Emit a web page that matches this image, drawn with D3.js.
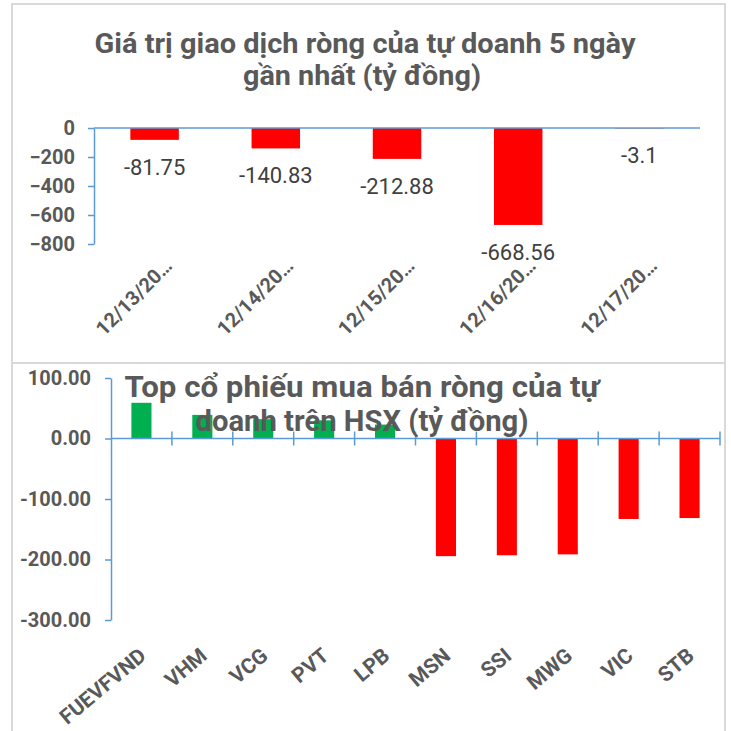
<!DOCTYPE html>
<html>
<head>
<meta charset="utf-8">
<script src="https://cdn.jsdelivr.net/npm/d3@7"></script>
<style>
body { margin: 0; background: #fff; }
text { font-family: Roboto, "Liberation Sans", sans-serif; }
</style>
</head>
<body>
<svg width="731" height="731"></svg>
<script>
// top chart data
const dates = ['12/13/20…', '12/14/20…', '12/15/20…', '12/16/20…', '12/17/20…'];
const dateValues = [-81.75, -140.83, -212.88, -668.56, -3.1];
const dateTicks = [0, -200, -400, -600, -800];

// bottom chart data
const stocks = ['FUEVFVND', 'VHM', 'VCG', 'PVT', 'LPB', 'MSN', 'SSI', 'MWG', 'VIC', 'STB'];
const stockValues = [59, 39, 32, 30, 23, -194.5, -193, -191.5, -133, -131.5];
const stockTicks = [100, 0, -100, -200, -300];

const AXIS = '#5b9bd5';
const GREY = '#595959';

const svg = d3.select('svg');

// panel frames
svg.append('rect').attr('x', 12).attr('y', 4).attr('width', 713).attr('height', 359)
  .attr('fill', 'none').attr('stroke', '#d9d9d9').attr('stroke-width', 2);
svg.append('rect').attr('x', 12).attr('y', 363).attr('width', 713).attr('height', 380)
  .attr('fill', 'none').attr('stroke', '#d9d9d9').attr('stroke-width', 2);

//---- top chart
const chart1 = svg.append('g');
const x1 = d3.scaleBand().domain(dates).range([94, 700]).paddingInner(0.6).paddingOuter(0.3);
const y1 = d3.scaleLinear().domain([-800, 0]).range([244, 128]);

chart1.append('text').attr('x', 365).attr('y', 53).attr('text-anchor', 'middle')
  .attr('font-size', 28).attr('font-weight', 'bold').attr('fill', GREY)
  .attr('textLength', 541).attr('lengthAdjust', 'spacingAndGlyphs')
  .text('Giá trị giao dịch ròng của tự doanh 5 ngày');
chart1.append('text').attr('x', 362).attr('y', 85).attr('text-anchor', 'middle')
  .attr('font-size', 28).attr('font-weight', 'bold').attr('fill', GREY)
  .attr('textLength', 238).attr('lengthAdjust', 'spacingAndGlyphs')
  .text('gần nhất (tỷ đồng)');

chart1.selectAll('.bar')
  .data(dates)
  .enter()
  .append('rect')
  .classed('bar', true)
  .attr('x', d => x1(d))
  .attr('width', x1.bandwidth())
  .attr('y', y1(0))
  .attr('height', (d, i) => y1(dateValues[i]) - y1(0))
  .attr('fill', '#ff0000');

// y axis
const ya1 = chart1.append('g')
  .attr('transform', 'translate(94,0)')
  .call(d3.axisLeft(y1).tickValues(dateTicks).tickSize(6).tickSizeOuter(0));
ya1.select('.domain').attr('stroke', AXIS).attr('stroke-width', 1.5);
ya1.selectAll('.tick line').attr('stroke', AXIS).attr('stroke-width', 1.5);
ya1.selectAll('.tick text').attr('x', -19).attr('font-size', 20).attr('font-weight', 'bold')
  .attr('fill', GREY).attr('font-family', null);

// zero line
chart1.append('line').attr('x1', 94).attr('x2', 700).attr('y1', y1(0)).attr('y2', y1(0))
  .attr('stroke', AXIS).attr('stroke-width', 1.5);

// value labels
chart1.selectAll('.label')
  .data(dates)
  .enter()
  .append('text')
  .classed('label', true)
  .attr('x', d => x1(d) + x1.bandwidth() / 2)
  .attr('y', (d, i) => y1(dateValues[i]) + 35)
  .attr('text-anchor', 'middle')
  .attr('font-size', 22)
  .attr('fill', '#404040')
  .text((d, i) => dateValues[i]);

// x labels
chart1.selectAll('.xlab')
  .data(dates)
  .enter()
  .append('text')
  .classed('xlab', true)
  .attr('transform', d => `translate(${x1(d) + x1.bandwidth() / 2 + 19},${267}) rotate(-45)`)
  .attr('text-anchor', 'end')
  .attr('font-size', 20)
  .attr('font-weight', 'bold')
  .attr('fill', GREY)
  .text(d => d);

//---- bottom chart
const chart2 = svg.append('g');
const x2 = d3.scaleBand().domain(stocks).range([111, 720]).paddingInner(0.67).paddingOuter(0.335);
const y2 = d3.scaleLinear().domain([-300, 100]).range([620, 378]);

chart2.selectAll('.bar')
  .data(stocks)
  .enter()
  .append('rect')
  .classed('bar', true)
  .attr('x', d => x2(d))
  .attr('width', x2.bandwidth())
  .attr('y', (d, i) => y2(Math.max(0, stockValues[i])))
  .attr('height', (d, i) => Math.abs(y2(stockValues[i]) - y2(0)))
  .attr('fill', (d, i) => stockValues[i] >= 0 ? '#00b050' : '#ff0000');

const ya2 = chart2.append('g')
  .attr('transform', 'translate(111,0)')
  .call(d3.axisLeft(y2).tickValues(stockTicks).tickSize(6).tickSizeOuter(0));
ya2.select('.domain').attr('stroke', AXIS).attr('stroke-width', 1.5);
ya2.selectAll('.tick line').attr('stroke', AXIS).attr('stroke-width', 1.5);
ya2.selectAll('.tick text').attr('x', -20).attr('font-size', 20).attr('font-weight', 'bold')
  .attr('fill', GREY).attr('font-family', null)
  .text(d => d.toFixed(2));

// x axis with boundary ticks
const bounds = stocks.map(d => x2(d) + x2.bandwidth() / 2 + x2.step() / 2);
chart2.append('line').attr('x1', 111).attr('x2', 720).attr('y1', y2(0)).attr('y2', y2(0))
  .attr('stroke', AXIS).attr('stroke-width', 1.5);
chart2.selectAll('.btick')
  .data(bounds)
  .enter()
  .append('line')
  .attr('x1', d => d).attr('x2', d => d)
  .attr('y1', y2(0) - 7).attr('y2', y2(0) + 7)
  .attr('stroke', AXIS).attr('stroke-width', 1.5);

chart2.selectAll('.xlab')
  .data(stocks)
  .enter()
  .append('text')
  .attr('transform', d => `translate(${x2(d) + x2.bandwidth() / 2 + 6},${658}) rotate(-40)`)
  .attr('text-anchor', 'end')
  .attr('font-size', 21)
  .attr('font-weight', 'bold')
  .attr('fill', GREY)
  .text(d => d);

// title drawn over the bars
chart2.append('text').attr('x', 362).attr('y', 397).attr('text-anchor', 'middle')
  .attr('font-size', 30).attr('font-weight', 'bold').attr('fill', GREY)
  .attr('textLength', 475).attr('lengthAdjust', 'spacingAndGlyphs')
  .text('Top cổ phiếu mua bán ròng của tự');
chart2.append('text').attr('x', 362).attr('y', 431).attr('text-anchor', 'middle')
  .attr('font-size', 30).attr('font-weight', 'bold').attr('fill', GREY)
  .attr('textLength', 333).attr('lengthAdjust', 'spacingAndGlyphs')
  .text('doanh trên HSX (tỷ đồng)');
</script>
</body>
</html>
